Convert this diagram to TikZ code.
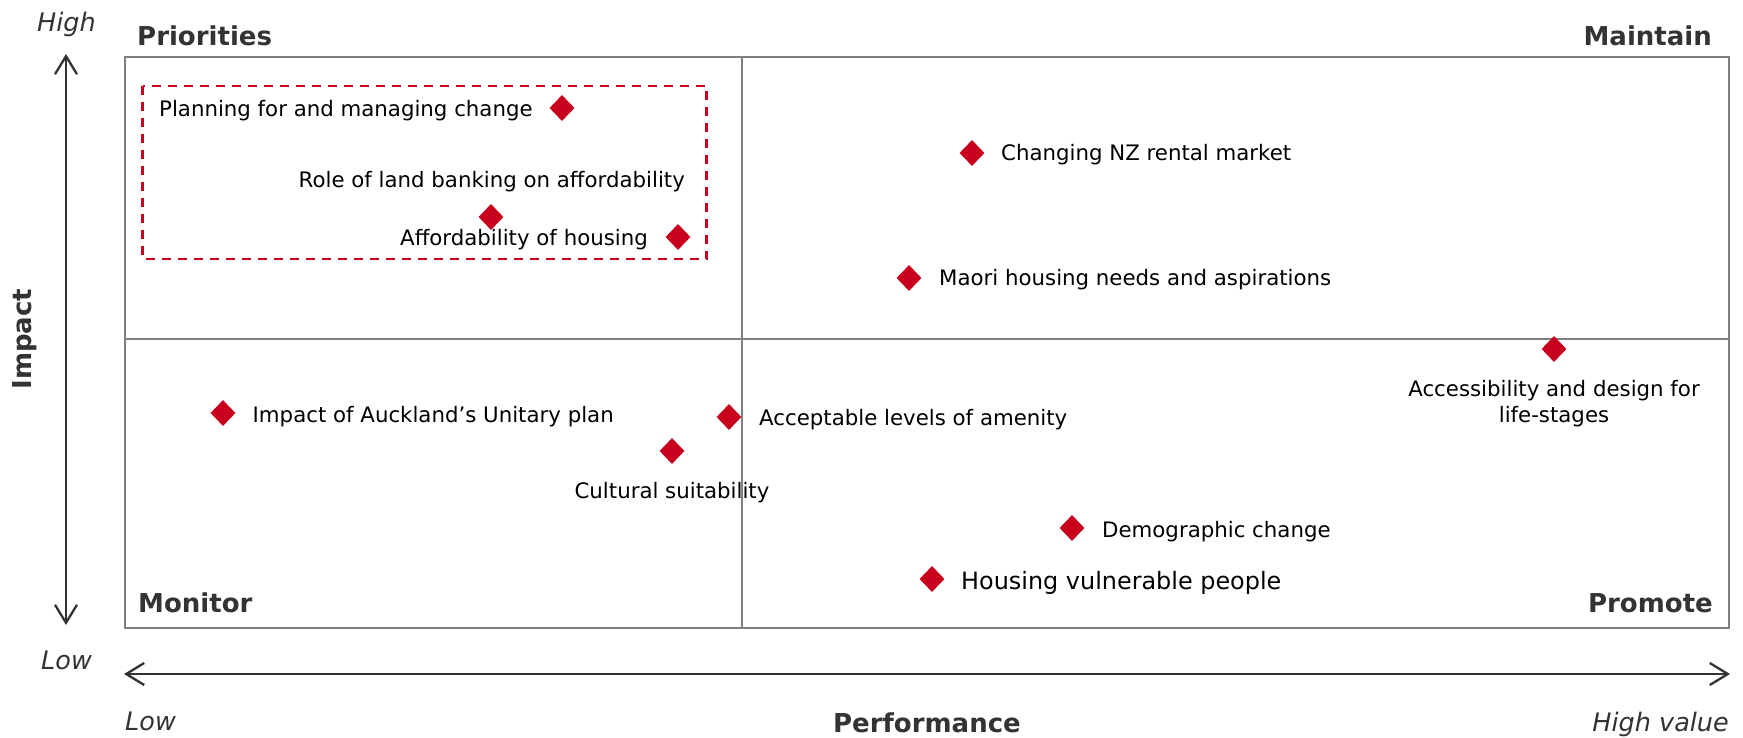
\documentclass[tikz,border=0pt]{standalone}
\usepackage{fontspec}
\setmainfont{DejaVu Sans}
\usetikzlibrary{shapes.geometric,arrows.meta}
\definecolor{dmred}{RGB}{200,0,30}
\definecolor{axgray}{RGB}{51,51,51}
\definecolor{boxgray}{RGB}{128,128,128}
\begin{document}
\begin{tikzpicture}[x=1pt,y=-1pt,
  dmd/.style={diamond, fill=dmred, draw=none, minimum width=25pt, minimum height=26pt, inner sep=0pt},
  lbl/.style={inner sep=0pt, font=\fontsize{21.3}{26}\selectfont, text=black},
  biglbl/.style={inner sep=0pt, font=\fontsize{23.9}{29}\selectfont, text=black},
  quad/.style={inner sep=0pt, font=\fontsize{26}{30}\selectfont\bfseries, text=axgray},
  axlbl/.style={inner sep=0pt, font=\fontsize{25.5}{30}\selectfont\itshape, text=axgray},
  frame/.style={draw=boxgray, line width=2pt},
  axis/.style={draw=axgray, line width=2.3pt, {Straight Barb[length=18pt,width=22pt]}-{Straight Barb[length=18pt,width=22pt]}},
  focus/.style={draw=dmred, line width=2.5pt, dash pattern=on 9pt off 7pt}
]
\useasboundingbox (0,0) rectangle (1743,738);

% frame and quadrants
\coordinate (tl) at (125,57);
\coordinate (br) at (1729,628);
\coordinate (mt) at (742,57);
\coordinate (mb) at (742,628);
\coordinate (ml) at (125,339);
\coordinate (mr) at (1729,339);
\draw[frame] (tl) rectangle (br);
\draw[frame] (mt) -- (mb);
\draw[frame] (ml) -- (mr);

% dashed priority box
\coordinate (ftl) at (142.5,86);
\coordinate (fbr) at (706.5,259);
\draw[focus] (ftl) rectangle (fbr);

% axes
\coordinate (vt) at (66,54);
\coordinate (vb) at (66,625);
\coordinate (hl) at (124,674);
\coordinate (hr) at (1730,674);
\draw[axis] (vt) -- (vb);
\draw[axis] (hl) -- (hr);

% axis labels
\node[axlbl, anchor=base west] (high) at (37,32) {High};
\node[axlbl, anchor=base west] (lowv) at (41,669) {Low};
\node[axlbl, anchor=base west] (lowh) at (125,730) {Low};
\node[axlbl, anchor=base east] (highv) at (1729,731) {High value};
\node[quad, anchor=base] (perf) at (927,732) {Performance};
\node[quad, rotate=90] (impact) at (25,339) {Impact};

% quadrant labels
\node[quad, anchor=base west] (prio) at (137,46) {Priorities};
\node[quad, anchor=base east] (maint) at (1712,46) {Maintain};
\node[quad, anchor=base west] (mon) at (138,612) {Monitor};
\node[quad, anchor=base east] (prom) at (1713,612) {Promote};

% items
\node[dmd] (d1) at (562,108) {};
\node[lbl, anchor=base west] (t1) at (159,117) {Planning for and managing change};

\node[dmd] (d2) at (491,217) {};
\node[lbl, anchor=base east] (t2) at (685,188) {Role of land banking on affordability};

\node[dmd] (d3) at (678,237) {};
\node[lbl, anchor=base east] (t3) at (648,245) {Affordability of housing};

\node[dmd] (d4) at (972,153) {};
\node[lbl, anchor=base west] (t4) at (1001,161) {Changing NZ rental market};

\node[dmd] (d5) at (909,278) {};
\node[lbl, anchor=base west] (t5) at (939,285) {Maori housing needs and aspirations};

\node[dmd] (d6) at (223,413) {};
\node[lbl, anchor=base west] (t6) at (252.5,422) {Impact of Auckland’s Unitary plan};

\node[dmd] (d7) at (729,417) {};
\node[lbl, anchor=base west] (t7) at (759,425) {Acceptable levels of amenity};

\node[dmd] (d8) at (672,451) {};
\node[lbl, anchor=base] (t8) at (672,498) {Cultural suitability};

\node[dmd] (d9) at (1554,349) {};
\node[lbl, anchor=base] (t9) at (1554,396.5) {Accessibility and design for};
\node[lbl, anchor=base] (t9b) at (1554,422.5) {life-stages};

\node[dmd] (d10) at (1072,528) {};
\node[lbl, anchor=base west] (t10) at (1102,537) {Demographic change};

\node[dmd] (d11) at (932,579) {};
\node[biglbl, anchor=base west] (t11) at (961,589.5) {Housing vulnerable people};
\end{tikzpicture}
\end{document}
